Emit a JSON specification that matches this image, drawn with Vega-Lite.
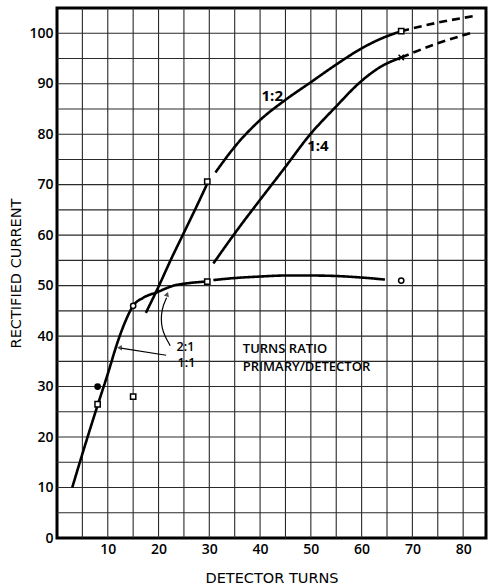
{
  "$schema": "https://vega.github.io/schema/vega-lite/v6.json",
  "width": 429,
  "height": 530,
  "autosize": "none",
  "padding": {"left": 57, "top": 8, "right": 2, "bottom": 48},
  "background": "white",
  "config": {
    "view": {"stroke": "black", "strokeWidth": 3},
    "font": "Open Sans",
    "axis": {"labelFont": "Open Sans", "titleFont": "DejaVu Sans", "labelColor": "black", "titleColor": "black"}
  },
  "datasets": {
    "gx": [{"x": 5}, {"x": 10}, {"x": 15}, {"x": 20}, {"x": 25}, {"x": 30}, {"x": 35}, {"x": 40}, {"x": 45}, {"x": 50}, {"x": 55}, {"x": 60}, {"x": 65}, {"x": 70}, {"x": 75}, {"x": 80}],
    "gy": [{"y": 5}, {"y": 10}, {"y": 15}, {"y": 20}, {"y": 25}, {"y": 30}, {"y": 35}, {"y": 40}, {"y": 45}, {"y": 50}, {"y": 55}, {"y": 60}, {"y": 65}, {"y": 70}, {"y": 75}, {"y": 80}, {"y": 85}, {"y": 90}, {"y": 95}, {"y": 100}],
    "curves": [
      {"seg": "low-a", "dash": "solid", "x": 3, "y": 10},
      {"seg": "low-a", "dash": "solid", "x": 5.5, "y": 18.3},
      {"seg": "low-a", "dash": "solid", "x": 8, "y": 26.3},
      {"seg": "low-a", "dash": "solid", "x": 10, "y": 32.5},
      {"seg": "low-a", "dash": "solid", "x": 12, "y": 39},
      {"seg": "low-a", "dash": "solid", "x": 13.5, "y": 43},
      {"seg": "low-a", "dash": "solid", "x": 15, "y": 46},
      {"seg": "low-a", "dash": "solid", "x": 17, "y": 47.6},
      {"seg": "low-a", "dash": "solid", "x": 19.7, "y": 48.7},
      {"seg": "low-a", "dash": "solid", "x": 23, "y": 50},
      {"seg": "low-a", "dash": "solid", "x": 26, "y": 50.5},
      {"seg": "low-a", "dash": "solid", "x": 29.4, "y": 50.8},
      {"seg": "low-b", "dash": "solid", "x": 30.8, "y": 51.1},
      {"seg": "low-b", "dash": "solid", "x": 35, "y": 51.5},
      {"seg": "low-b", "dash": "solid", "x": 40, "y": 51.8},
      {"seg": "low-b", "dash": "solid", "x": 45, "y": 52},
      {"seg": "low-b", "dash": "solid", "x": 50, "y": 52},
      {"seg": "low-b", "dash": "solid", "x": 55, "y": 51.9},
      {"seg": "low-b", "dash": "solid", "x": 60, "y": 51.6},
      {"seg": "low-b", "dash": "solid", "x": 64.6, "y": 51.2},
      {"seg": "h-a", "dash": "solid", "x": 17.5, "y": 44.6},
      {"seg": "h-a", "dash": "solid", "x": 20, "y": 49.8},
      {"seg": "h-a", "dash": "solid", "x": 22.5, "y": 55.3},
      {"seg": "h-a", "dash": "solid", "x": 25, "y": 60.5},
      {"seg": "h-a", "dash": "solid", "x": 27.5, "y": 65.7},
      {"seg": "h-a", "dash": "solid", "x": 29.5, "y": 70},
      {"seg": "h-b", "dash": "solid", "x": 31.2, "y": 72.4},
      {"seg": "h-b", "dash": "solid", "x": 35, "y": 77.5},
      {"seg": "h-b", "dash": "solid", "x": 40, "y": 82.8},
      {"seg": "h-b", "dash": "solid", "x": 45, "y": 86.8},
      {"seg": "h-b", "dash": "solid", "x": 50, "y": 90.3},
      {"seg": "h-b", "dash": "solid", "x": 55, "y": 93.8},
      {"seg": "h-b", "dash": "solid", "x": 60, "y": 97},
      {"seg": "h-b", "dash": "solid", "x": 64, "y": 99},
      {"seg": "h-b", "dash": "solid", "x": 67.8, "y": 100.4},
      {"seg": "h-c", "dash": "dashed", "x": 67.8, "y": 100.4},
      {"seg": "h-c", "dash": "dashed", "x": 75, "y": 102.1},
      {"seg": "h-c", "dash": "dashed", "x": 82.8, "y": 103.5},
      {"seg": "q-a", "dash": "solid", "x": 30.8, "y": 54.4},
      {"seg": "q-a", "dash": "solid", "x": 36, "y": 61.7},
      {"seg": "q-a", "dash": "solid", "x": 40, "y": 67},
      {"seg": "q-a", "dash": "solid", "x": 44.6, "y": 73},
      {"seg": "q-a", "dash": "solid", "x": 49.9, "y": 80},
      {"seg": "q-a", "dash": "solid", "x": 54.8, "y": 85.3},
      {"seg": "q-a", "dash": "solid", "x": 59.7, "y": 90.3},
      {"seg": "q-a", "dash": "solid", "x": 63.5, "y": 93.2},
      {"seg": "q-a", "dash": "solid", "x": 67.8, "y": 95.2},
      {"seg": "q-b", "dash": "dashed", "x": 67.8, "y": 95.2},
      {"seg": "q-b", "dash": "dashed", "x": 75, "y": 98},
      {"seg": "q-b", "dash": "dashed", "x": 82, "y": 100.2}
    ],
    "markers": [
      {"x": 8, "y": 26.5, "shape": "square", "fill": "white"},
      {"x": 8, "y": 30, "shape": "circle", "fill": "black"},
      {"x": 15, "y": 46, "shape": "circle", "fill": "white"},
      {"x": 15, "y": 28, "shape": "square", "fill": "white"},
      {"x": 29.6, "y": 70.6, "shape": "square", "fill": "white"},
      {"x": 29.6, "y": 50.8, "shape": "square", "fill": "white"},
      {"x": 67.8, "y": 51, "shape": "circle", "fill": "white"},
      {"x": 67.8, "y": 100.4, "shape": "square", "fill": "white"},
      {"x": 67.8, "y": 95.2, "shape": "M-1,-1L1,1M-1,1L1,-1", "fill": "black"}
    ],
    "arrows": [
      {"arrow": "a1", "i": 0, "x": 21.5, "y": 36.2},
      {"arrow": "a1", "i": 1, "x": 12.6, "y": 37.6},
      {"arrow": "a2", "i": 0, "x": 22.3, "y": 38.1},
      {"arrow": "a2", "i": 1, "x": 20.4, "y": 41.5},
      {"arrow": "a2", "i": 2, "x": 20.6, "y": 45.5},
      {"arrow": "a2", "i": 3, "x": 21.6, "y": 47.6}
    ],
    "heads": [
      {"x": 12.3, "y": 37.7, "shape": "triangle-left", "angle": 0},
      {"x": 21.7, "y": 48.3, "shape": "triangle-up", "angle": 20}
    ],
    "labelsB": [
      {"x": 42.4, "y": 87.5, "text": "1:2"},
      {"x": 51.4, "y": 77.6, "text": "1:4"}
    ],
    "labelsC": [
      {"x": 25.3, "y": 37.9, "text": "2:1"},
      {"x": 25.5, "y": 34.6, "text": "1:1"}
    ],
    "labelsL": [
      {"x": 36.6, "y": 37.35, "text": "TURNS RATIO"},
      {"x": 36.6, "y": 33.8, "text": "PRIMARY/DETECTOR"}
    ]
  },
  "encoding": {
    "x": {
      "field": "x", "type": "quantitative",
      "scale": {"domain": [0, 84.5], "nice": false, "zero": false},
      "axis": {
        "values": [10, 20, 30, 40, 50, 60, 70, 80],
        "grid": false,
        "ticks": false, "domain": false,
        "labelFontSize": 14, "labelFontWeight": 600, "labelPadding": 4, "labelOverlap": false,
        "title": "DETECTOR  TURNS", "titleFontSize": 14.5, "titleFontWeight": "normal", "titlePadding": 15
      }
    },
    "y": {
      "field": "y", "type": "quantitative",
      "scale": {"domain": [0, 105], "nice": false},
      "axis": {
        "values": [0, 10, 20, 30, 40, 50, 60, 70, 80, 90, 100],
        "grid": false,
        "ticks": false, "domain": false,
        "labelFontSize": 14, "labelFontWeight": 600, "labelPadding": 4, "labelOverlap": false,
        "title": "RECTIFIED CURRENT", "titleFontSize": 14.5, "titleFontWeight": "normal",
        "titleX": -41, "titleY": 265, "titleAngle": 270, "titleAlign": "center", "titleBaseline": "middle"
      }
    }
  },
  "layer": [
    {
      "data": {"name": "gx"},
      "mark": {"type": "rule", "color": "#2a2a2a", "strokeWidth": 1.1},
      "encoding": {"y": {"value": 0}, "y2": {"value": 530}}
    },
    {
      "data": {"name": "gy"},
      "mark": {"type": "rule", "color": "#2a2a2a", "strokeWidth": 1.1},
      "encoding": {"x": {"value": 0}, "x2": {"value": 429}}
    },
    {
      "data": {"name": "curves"},
      "mark": {"type": "line", "interpolate": "monotone", "color": "black", "strokeWidth": 2.6},
      "encoding": {
        "detail": {"field": "seg"},
        "strokeDash": {
          "field": "dash", "type": "nominal",
          "scale": {"domain": ["solid", "dashed"], "range": [[1, 0], [8, 5]]},
          "legend": null
        }
      }
    },
    {
      "data": {"name": "arrows"},
      "mark": {"type": "line", "interpolate": "basis", "color": "black", "strokeWidth": 1.2},
      "encoding": {
        "detail": {"field": "arrow"},
        "order": {"field": "i", "type": "quantitative"}
      }
    },
    {
      "data": {"name": "heads"},
      "mark": {"type": "point", "filled": true, "color": "black", "size": 30},
      "encoding": {
        "shape": {"field": "shape", "type": "nominal", "scale": null},
        "angle": {"field": "angle", "type": "quantitative", "scale": null}
      }
    },
    {
      "data": {"name": "markers"},
      "mark": {"type": "point", "filled": true, "stroke": "black", "strokeWidth": 1.5, "size": 28, "opacity": 1},
      "encoding": {
        "shape": {"field": "shape", "type": "nominal", "scale": null},
        "fill": {"field": "fill", "type": "nominal", "scale": null}
      }
    },
    {
      "data": {"name": "labelsB"},
      "mark": {"type": "text", "align": "center", "baseline": "middle", "fontSize": 15, "fontWeight": "bold", "font": "Open Sans", "color": "black"},
      "encoding": {"text": {"field": "text"}}
    },
    {
      "data": {"name": "labelsC"},
      "mark": {"type": "text", "align": "center", "baseline": "middle", "fontSize": 12.5, "fontWeight": 600, "font": "Open Sans", "color": "black"},
      "encoding": {"text": {"field": "text"}}
    },
    {
      "data": {"name": "labelsL"},
      "mark": {"type": "text", "align": "left", "baseline": "middle", "fontSize": 13, "fontWeight": 600, "font": "Open Sans", "color": "black"},
      "encoding": {"text": {"field": "text"}}
    }
  ]
}
